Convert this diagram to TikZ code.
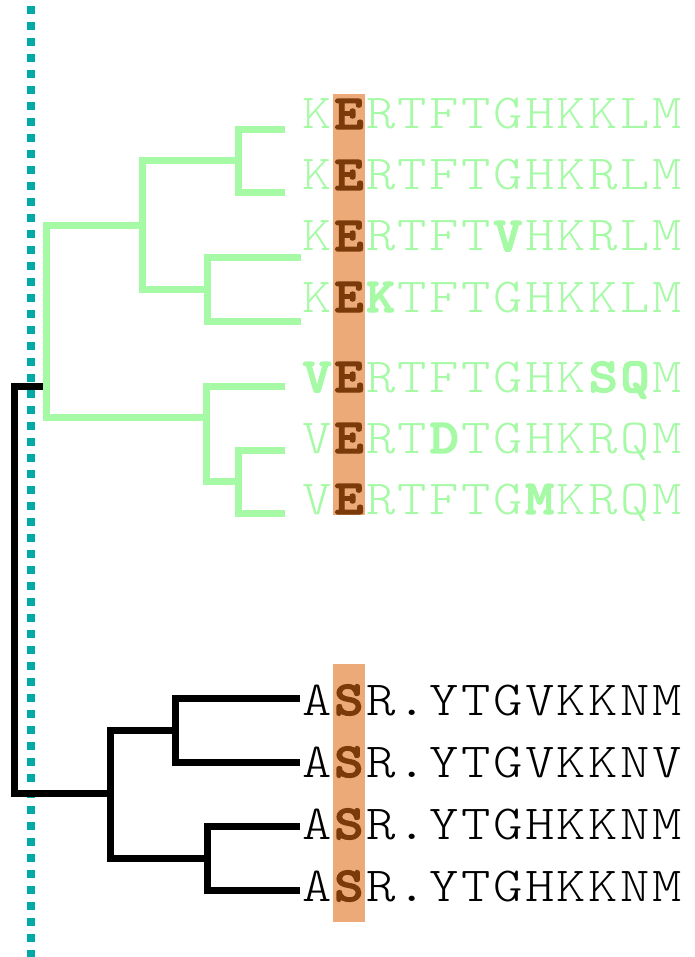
\documentclass[tikz,border=0pt]{standalone}
\usepackage{fontspec}
\usepackage{xcolor}
\definecolor{cladeG}{RGB}{166,250,166}
\definecolor{hlOrange}{RGB}{236,170,120}
\definecolor{siteBrown}{RGB}{122,58,10}
\definecolor{guideTeal}{RGB}{0,168,168}
% typewriter faces, widened to fill the alignment cells
\newfontfamily\seqreg{lmmonolt10-regular.otf}[FakeStretch=1.14]
\newfontfamily\seqbold{lmmonolt10-bold.otf}[FakeStretch=1.14,FakeBold=2.5]
% fixed-width alignment cells
\newcommand\cellw{31.8pt}
\def\seqloop#1{\ifx\relax#1\else\makebox[\cellw][c]{#1}\expandafter\seqloop\fi}
\newcommand\seqchars[1]{\seqloop#1\relax}
\newcommand\seqfont{\seqreg\fontsize{49}{49}\selectfont}
\newcommand\mut{\seqbold}
\newcommand\site{\seqbold\color{siteBrown}}
\begin{document}
\begin{tikzpicture}[x=1pt,y=-1pt,
  gbr/.style={draw=cladeG,line width=7pt,line join=miter},
  kbr/.style={draw=black,line width=7pt,line join=miter},
  gseq/.style={anchor=base west,inner sep=0pt,text=cladeG,font=\seqfont},
  kseq/.style={anchor=base west,inner sep=0pt,text=black,font=\seqfont},
  hlbar/.style={fill=hlOrange,draw=none}]
\useasboundingbox (0,0) rectangle (694,957);

% guide line
\draw[guideTeal,line width=8pt,dash pattern=on 8pt off 8pt] (30.5,6) -- (30.5,957);

% highlighted alignment column
\fill[hlbar] (333,94) rectangle (365,515);
\fill[hlbar] (333,664) rectangle (365,922);

% green clade: leaf ends and internal nodes
\coordinate (g1) at (285,130);
\coordinate (g2) at (285,193);
\coordinate (g3) at (301,258);
\coordinate (g4) at (301,321);
\coordinate (g5) at (285,386);
\coordinate (g6) at (285,450);
\coordinate (g7) at (285,513);
\coordinate (nA) at (238,161);
\coordinate (nB) at (207,289);
\coordinate (nC) at (142,226);
\coordinate (nD) at (238,481);
\coordinate (nE) at (206,417);
\coordinate (gLow) at (46,417);
\coordinate (nG) at (46,386);

% black clade
\coordinate (b1) at (300,698);
\coordinate (b2) at (300,762);
\coordinate (b3) at (300,826);
\coordinate (b4) at (300,890);
\coordinate (nP) at (175,730);
\coordinate (nQ) at (207,858);
\coordinate (nR) at (110,793);
\coordinate (rootLow) at (14,793);

\draw[kbr] (b1) -| (nP) |- (b2);
\draw[kbr] (b3) -| (nQ) |- (b4);
\draw[kbr] (nP) -| (nR) |- (nQ);
\draw[kbr] (nG) -| (rootLow) -- (nR);

\draw[gbr] (g1) -| (nA) |- (g2);
\draw[gbr] (g3) -| (nB) |- (g4);
\draw[gbr] (nA) -| (nC) |- (nB);
\draw[gbr] (g6) -| (nD) |- (g7);
\draw[gbr] (g5) -| (nE) |- (nD);
\draw[gbr] (nC) -| (gLow) -- (nE);

% sequences
\node[gseq] (s1) at (301,129) {\seqchars{K{\site E}RTFTGHKKLM}};
\node[gseq] (s2) at (301,190) {\seqchars{K{\site E}RTFTGHKRLM}};
\node[gseq] (s3) at (301,251) {\seqchars{K{\site E}RTFT{\mut V}HKRLM}};
\node[gseq] (s4) at (301,312) {\seqchars{K{\site E}{\mut K}TFTGHKKLM}};
\node[gseq] (s5) at (301,392) {\seqchars{{\mut V}{\site E}RTFTGHK{\mut S}{\mut Q}M}};
\node[gseq] (s6) at (301,453) {\seqchars{V{\site E}RT{\mut D}TGHKRQM}};
\node[gseq] (s7) at (301,514) {\seqchars{V{\site E}RTFTG{\mut M}KRQM}};

\node[kseq] (t1) at (301,715) {\seqchars{A{\site S}R.YTGVKKNM}};
\node[kseq] (t2) at (301,777) {\seqchars{A{\site S}R.YTGVKKNV}};
\node[kseq] (t3) at (301,839) {\seqchars{A{\site S}R.YTGHKKNM}};
\node[kseq] (t4) at (301,901) {\seqchars{A{\site S}R.YTGHKKNM}};
\end{tikzpicture}
\end{document}
